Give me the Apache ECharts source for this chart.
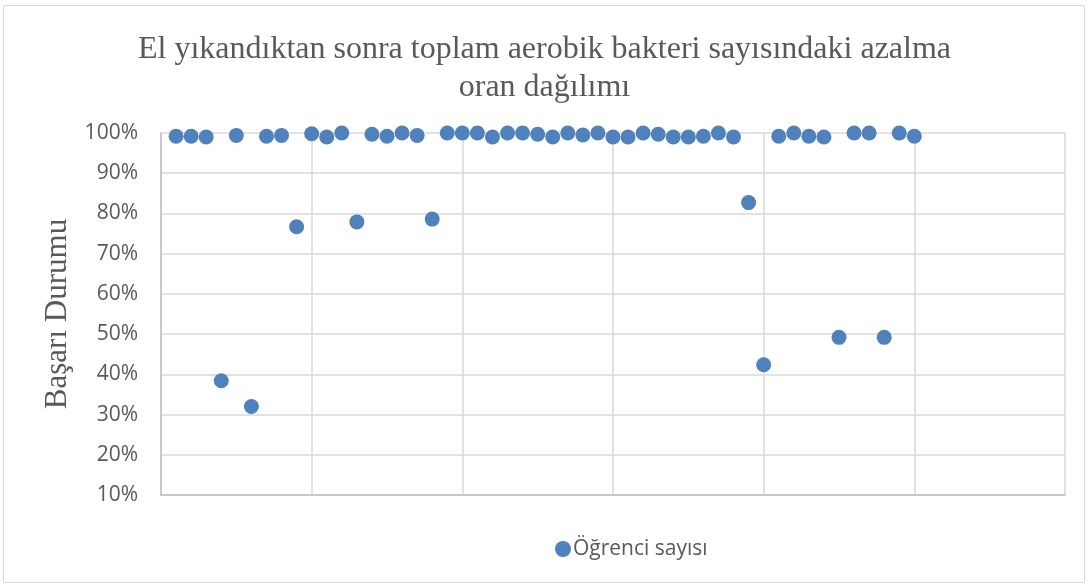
<!DOCTYPE html>
<html>
<head>
<meta charset="utf-8">
<script src="https://cdn.jsdelivr.net/npm/echarts@6/dist/echarts.min.js"></script>
<style>
html,body{margin:0;padding:0;background:#fff;}
#c{width:1089px;height:586px;}
</style>
</head>
<body>
<div id="c"></div>
<script>
const titleText = 'El yıkandıktan sonra toplam aerobik bakteri sayısındaki azalma\noran dağılımı';
const yAxisName = 'Başarı Durumu';
const seriesName = 'Öğrenci sayısı';
const xValues = [1,2,3,4,5,6,7,8,9,10,11,12,13,14,15,16,17,18,19,20,21,22,23,24,25,26,27,28,29,30,31,32,33,34,35,36,37,38,39,40,41,42,43,44,45,46,47,48,49,50];
const yValues = [99.2,99.2,99.0,38.4,99.4,32.0,99.2,99.4,76.7,99.8,99.0,100,77.9,99.7,99.2,100,99.4,78.6,100,100,100,99.0,100,100,99.7,99.0,100,99.5,100,99.0,99.0,100,99.7,99.0,99.0,99.2,100,99.0,82.7,42.4,99.2,100,99.2,99.0,49.2,100,100,49.2,100,99.2];

const chart = echarts.init(document.getElementById('c'), null, {renderer:'canvas'});
chart.setOption({
  animation:false,
  backgroundColor:'#fff',
  graphic:[{type:'rect',shape:{x:3.5,y:5.5,width:1081,height:577},style:{fill:'none',stroke:'#d9d9d9',lineWidth:1},silent:true,z:-1}],
  title:{
    text:titleText,
    left:'center', top:26,
    textStyle:{fontFamily:'Liberation Serif',fontSize:32,fontWeight:'normal',color:'#595959',lineHeight:38}
  },
  legend:{
    top:537, left:555, padding:0,
    itemWidth:16,itemHeight:16,itemGap:4,
    icon:'circle',
    itemStyle:{opacity:1},
    textStyle:{fontFamily:'Open Sans',fontSize:21,color:'#595959',lineHeight:24,padding:[0,0,0,-3]}
  },
  grid:{left:161,right:24,top:133,bottom:91},
  xAxis:{
    type:'value',min:0,max:60,interval:10,
    axisLine:{show:true,lineStyle:{color:'#bfbfbf',width:1.5}},
    axisTick:{show:false},axisLabel:{show:false},
    splitLine:{show:true,lineStyle:{color:'#d9d9d9',width:1.5}}
  },
  yAxis:{
    type:'value',min:10,max:100,interval:10,
    name:yAxisName,nameLocation:'middle',nameGap:82,
    nameTextStyle:{fontFamily:'Liberation Serif',fontSize:31,color:'#595959'},
    axisLine:{show:true,lineStyle:{color:'#bfbfbf',width:1.5}},
    axisTick:{show:false},
    axisLabel:{formatter:'{value}%',fontFamily:'Open Sans',fontSize:21,color:'#595959',margin:23},
    splitLine:{show:true,lineStyle:{color:'#d9d9d9',width:1.5}}
  },
  series:[{
    name:seriesName,type:'scatter',symbol:'circle',symbolSize:15,
    itemStyle:{color:'#4f81bd',opacity:1},
    data:xValues.map((x,i)=>[x,yValues[i]])
  }]
});
</script>
</body>
</html>
